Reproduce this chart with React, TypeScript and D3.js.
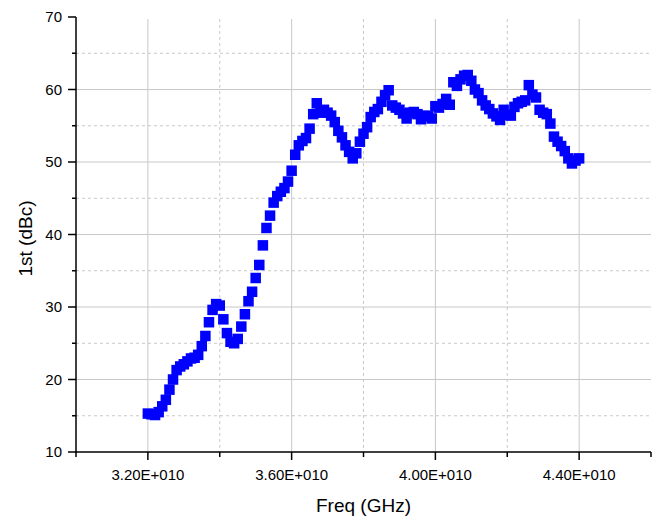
import React from "react";
import * as d3 from "d3";

const freqStart = 3.2e10;
const freqStep = 1e8;
const firstHarmonic = [
  15.3, 15.2, 15.1, 15.5, 16.3, 17.2, 18.6, 20.0, 21.3, 21.8,
  22.1, 22.5, 22.9, 23.0, 23.4, 24.6, 26.0, 27.9, 29.6, 30.4,
  30.2, 28.3, 26.4, 25.2, 25.0, 25.6, 27.3, 29.0, 30.8, 32.1,
  34.0, 35.8, 38.5, 40.9, 42.6, 44.4, 45.3, 45.9, 46.4, 47.3,
  48.8, 51.0, 52.3, 52.9, 53.3, 54.6, 56.6, 58.1, 56.8, 57.2,
  56.8, 56.4, 55.5, 54.3, 53.4, 52.3, 51.4, 50.5, 51.2, 52.8,
  53.9, 54.8, 56.2, 56.9, 57.3, 58.3, 59.2, 59.9, 57.8, 57.5,
  57.2, 56.7, 56.0, 56.8, 56.9, 56.6, 55.9, 56.4, 56.3, 56.0,
  57.7, 57.5, 58.0, 58.7, 57.9, 61.0, 60.5, 61.4, 61.9, 62.0,
  61.2, 60.0, 59.5, 58.5, 57.8, 57.3, 56.7, 56.3, 55.8, 57.2,
  56.5, 56.4, 57.6, 58.1, 58.3, 58.5, 60.6, 59.3, 58.9, 57.2,
  56.8, 56.6, 55.3, 53.5, 52.8, 52.2, 51.5, 50.5, 49.8, 50.2,
  50.5,
];
const freqs = firstHarmonic.map((_, i) => freqStart + i * freqStep);

const xMajorTicks = [3.2e10, 3.6e10, 4.0e10, 4.4e10];
const xMajorLabels = ["3.20E+010", "3.60E+010", "4.00E+010", "4.40E+010"];
const xMinorTicks = [3.0e10, 3.4e10, 3.8e10, 4.2e10, 4.6e10];
const yMajorTicks = [10, 20, 30, 40, 50, 60, 70];
const yMinorTicks = [15, 25, 35, 45, 55, 65];

const W = 659;
const H = 521;
const L = 76, R = 651, T = 17, B = 452;
const font = "'Liberation Sans', Arial, Helvetica, sans-serif";

export default function App() {
  const x = d3.scaleLinear().domain([3.0e10, 4.6e10]).range([L, R]);
  const y = d3.scaleLinear().domain([10, 70]).range([B, T]);
  const ms = 10.5;
  return (
    <svg width={W} height={H} style={{ position: "absolute", left: 0, top: 0, background: "#fff" }}>
      <rect x={0} y={0} width={W} height={H} fill="#fff" />
      {/* grid */}
      {yMinorTicks.map((v) => (
        <line key={"ym" + v} x1={L} x2={R} y1={y(v)} y2={y(v)} stroke="#c8c8c8" strokeWidth={1} strokeDasharray="3,3" />
      ))}
      {yMajorTicks.filter((v) => v > 10 && v < 70).map((v) => (
        <line key={"yM" + v} x1={L} x2={R} y1={y(v)} y2={y(v)} stroke="#c8c8c8" strokeWidth={1} />
      ))}
      {xMinorTicks.filter((v) => v > 3.0e10 && v < 4.6e10).map((v) => (
        <line key={"xm" + v} x1={x(v)} x2={x(v)} y1={T + 2} y2={B} stroke="#c8c8c8" strokeWidth={1} strokeDasharray="3,3" />
      ))}
      {xMajorTicks.map((v) => (
        <line key={"xM" + v} x1={x(v)} x2={x(v)} y1={T + 2} y2={B} stroke="#c8c8c8" strokeWidth={1} />
      ))}
      {/* data */}
      {firstHarmonic.map((v, i) => (
        <rect key={"p" + i} x={x(freqs[i]) - ms / 2} y={y(v) - ms / 2} width={ms} height={ms} fill="#0000ff" />
      ))}
      {/* axes */}
      <line x1={L} x2={L} y1={T} y2={B + 0.75} stroke="#000" strokeWidth={1.5} />
      <line x1={L - 0.75} x2={R} y1={B} y2={B} stroke="#000" strokeWidth={1.5} />
      {yMajorTicks.map((v) => (
        <line key={"yt" + v} x1={L - 8} x2={L} y1={y(v)} y2={y(v)} stroke="#000" strokeWidth={1.5} />
      ))}
      {yMinorTicks.map((v) => (
        <line key={"ytm" + v} x1={L - 4} x2={L} y1={y(v)} y2={y(v)} stroke="#000" strokeWidth={1.5} />
      ))}
      {xMajorTicks.map((v) => (
        <line key={"xt" + v} x1={x(v)} x2={x(v)} y1={B} y2={B + 8} stroke="#000" strokeWidth={1.5} />
      ))}
      {xMinorTicks.map((v) => (
        <line key={"xtm" + v} x1={x(v)} x2={x(v)} y1={B} y2={B + 5} stroke="#000" strokeWidth={1.5} />
      ))}
      {/* tick labels */}
      {yMajorTicks.map((v) => (
        <text key={"yl" + v} x={L - 14} y={y(v)} dy="0.36em" textAnchor="end" fontFamily={font} fontSize={15} fill="#000">
          {v}
        </text>
      ))}
      {xMajorTicks.map((v, i) => (
        <text key={"xl" + v} x={x(v)} y={480} textAnchor="middle" fontFamily={font} fontSize={15} fill="#000">
          {xMajorLabels[i]}
        </text>
      ))}
      {/* titles */}
      <text x={(L + R) / 2} y={512} textAnchor="middle" fontFamily={font} fontSize={19} fill="#000">
        Freq (GHz)
      </text>
      <text transform={`translate(32,${(T + B) / 2 + 4}) rotate(-90)`} textAnchor="middle" fontFamily={font} fontSize={19} fill="#000">
        1st (dBc)
      </text>
    </svg>
  );
}
